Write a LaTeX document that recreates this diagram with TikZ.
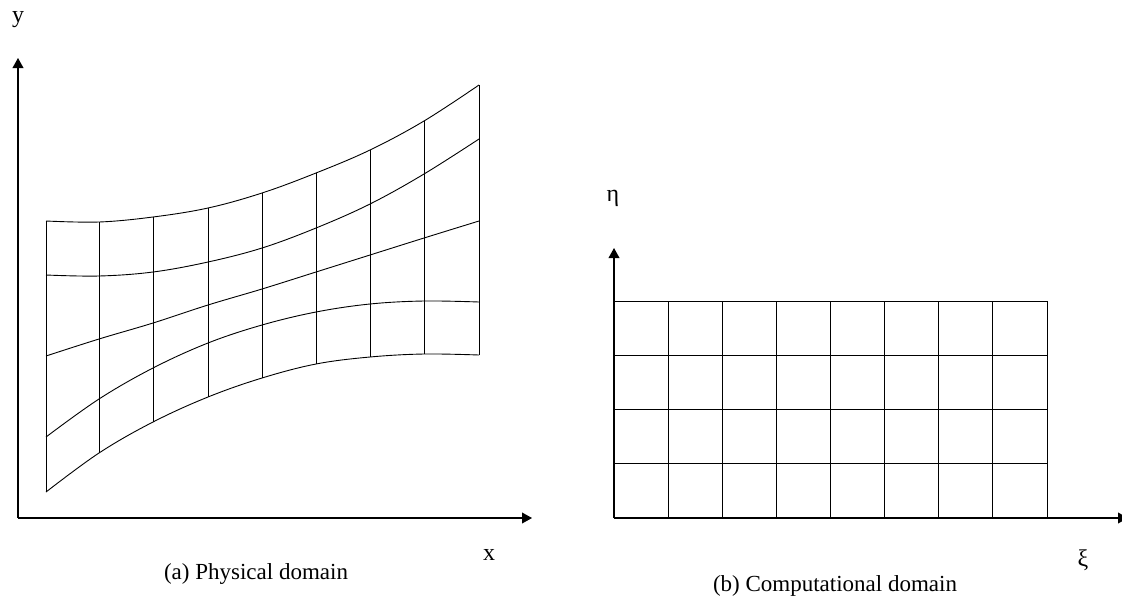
\documentclass[tikz,border=0pt]{standalone}
\usepackage{fontspec}
\setmainfont{Liberation Serif}
\usetikzlibrary{arrows.meta,positioning}
\begin{document}
\begin{tikzpicture}[
  x=0.5pt, y=-0.5pt,
  font=\fontsize{11.5}{13}\selectfont,
  axis/.style={
    -{Triangle[length=5pt,width=5.4pt]},
    line width=0.55pt
  },
  meshline/.style={
    line width=0.45pt
  },
  axislabel/.style={
    inner sep=0pt,
    font=\fontsize{12}{14}\selectfont
  },
  caption/.style={
    inner sep=0pt
  }
]
\useasboundingbox (0,0) rectangle (1122,600);

% Physical domain
\coordinate (porigin) at (18,518);
\coordinate (pxend) at (532,518);
\coordinate (pyend) at (18,58);
\draw[axis] (porigin) -- (pxend);
\draw[axis] (porigin) -- (pyend);
\node[axislabel] (ylabel) at (18,20) {y};
\node[axislabel] (xlabel) at (489,555) {x};

\draw[meshline] plot[smooth, tension=0.6] coordinates {(46,492) (99,453) (153,422) (208,397) (262,378) (316,364) (370,357) (424,354) (479,355)};
\draw[meshline] plot[smooth, tension=0.6] coordinates {(46,437) (99,399) (153,368) (208,343) (262,325) (316,312) (370,304) (424,301) (479,302)};
\draw[meshline] plot[smooth, tension=0.6] coordinates {(46,356) (99,339) (153,323) (208,305) (262,289) (316,272) (370,255) (424,238) (479,221)};
\draw[meshline] plot[smooth, tension=0.6] coordinates {(46,275) (99,276) (153,272) (208,262) (262,248) (316,228) (370,204) (424,174) (479,139)};
\draw[meshline] plot[smooth, tension=0.6] coordinates {(46,221) (99,222) (153,217) (208,208) (262,193) (316,173) (370,150) (424,121) (479,85)};
\foreach \x/\ylo/\yhi in {46/492/221, 99/453/222, 153/422/217, 208/397/208, 262/378/193,
                          316/364/173, 370/357/150, 424/354/121, 479/355/85}
  \draw[meshline] (\x,\ylo) -- (\x,\yhi);

\node[caption] (capa) at (256,574) {(a) Physical domain};

% Computational domain
\coordinate (corigin) at (614,518);
\coordinate (cxend) at (1128,518);
\coordinate (cyend) at (614,248);
\foreach \i in {0,...,8}
  \draw[meshline] (614+54.125*\i,301) -- (614+54.125*\i,518);
\foreach \j in {0,...,4}
  \draw[meshline] (614,301+54.25*\j) -- (1047,301+54.25*\j);
\draw[axis] (corigin) -- (cxend);
\draw[axis] (corigin) -- (cyend);
\node[axislabel] (etalabel) at (613,198) {η};
\node[axislabel] (xilabel) at (1083,560) {ξ};

\node[caption] (capb) at (835,586) {(b) Computational domain};
\end{tikzpicture}
\end{document}
